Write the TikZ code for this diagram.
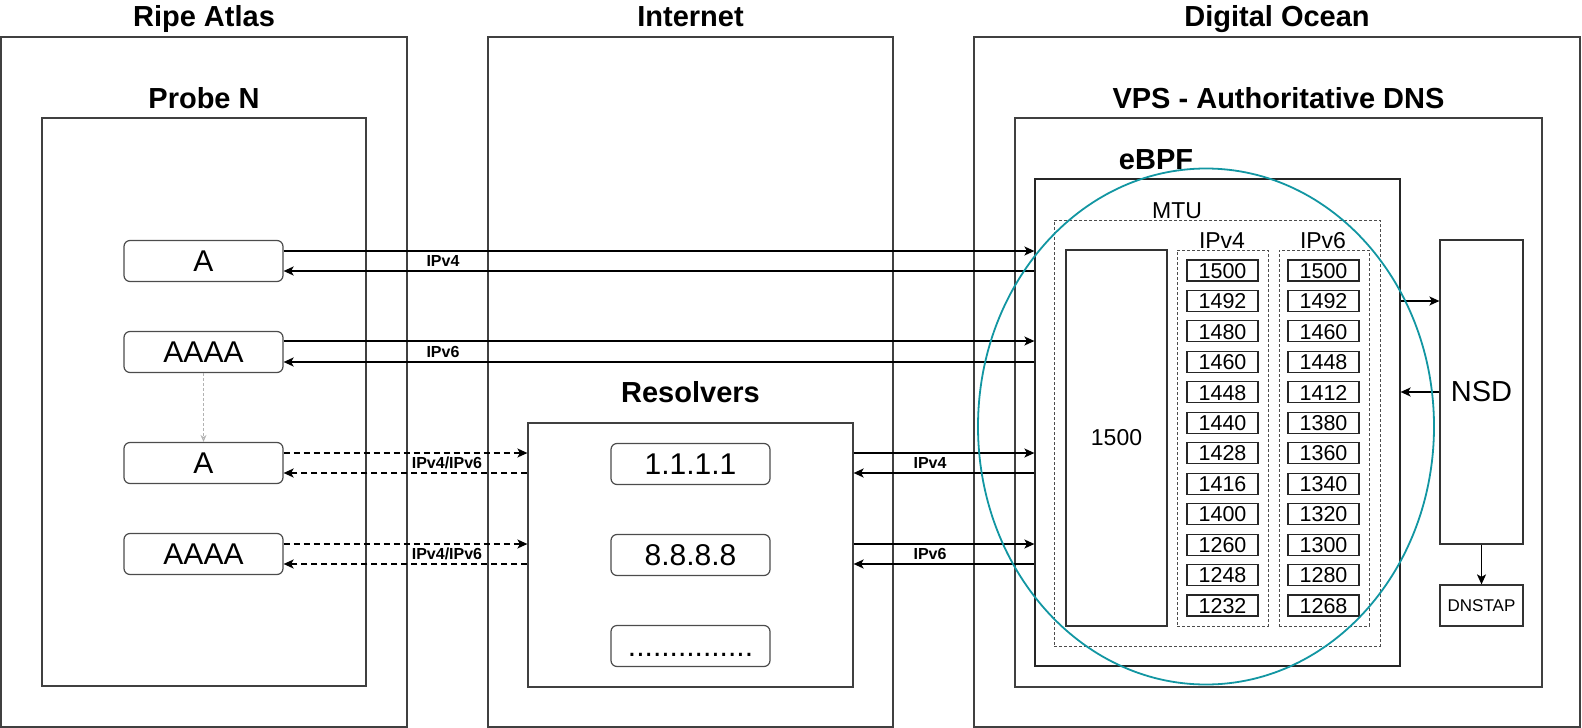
\documentclass[tikz,border=0pt]{standalone}
\usepackage{fontspec}
\setmainfont{Liberation Sans}
\usetikzlibrary{arrows.meta,calc}
\definecolor{tealring}{RGB}{18,150,162}
\begin{document}
\begin{tikzpicture}[x=1pt,y=-1pt,
 obox/.style={draw=black!75, line width=1.2pt, inner sep=0pt},
 rbox/.style={draw=black!70, line width=1.2pt, rounded corners=6pt, minimum width=159pt, minimum height=41pt, inner sep=0pt, text height=21.5pt, text depth=0pt, font=\fontsize{30}{30}\selectfont},
 nbox/.style={draw=black!85, line width=1.1pt, minimum width=71pt, minimum height=21pt, inner sep=0pt, text height=15.5pt, text depth=0pt, font=\fontsize{21.5}{21.5}\selectfont},
 dbox/.style={draw=black!70, line width=0.9pt, dash pattern=on 3pt off 2pt, inner sep=0pt},
 ttl/.style={font=\fontsize{29}{29}\selectfont\bfseries, anchor=base, inner sep=0pt},
 hdr/.style={font=\fontsize{23}{23}\selectfont, anchor=base, inner sep=0pt},
 arr/.style={-{Stealth[length=10pt,width=9pt,inset=2.5pt]}, line width=1.6pt, black},
 darr/.style={arr, dash pattern=on 6pt off 4pt},
 garr/.style={-{Stealth[open,length=7pt,width=6pt]}, line width=0.9pt, black!30, dash pattern=on 3pt off 2pt},
 lbl/.style={font=\fontsize{16}{16}\selectfont\bfseries, inner sep=0pt},
]
\useasboundingbox (0,0) rectangle (1582,728);

% outer containers
\node[obox, minimum width=406pt, minimum height=690pt] (ripe) at (204,382) {};
\node[obox, minimum width=405pt, minimum height=690pt] (inet) at (690.5,382) {};
\node[obox, minimum width=606pt, minimum height=690pt] (docean) at (1277,382) {};
\node[ttl] (tripe) at (204,27) {Ripe Atlas};
\node[ttl] (tinet) at (690.5,27) {Internet};
\node[ttl] (tdo) at (1277,27) {Digital Ocean};

% probe
\node[obox, minimum width=324pt, minimum height=568pt] (probe) at (204,402) {};
\node[ttl] (tprobe) at (204,108) {Probe N};
\node[rbox] (a1) at (203.5,261) {A};
\node[rbox] (q1) at (203.5,352) {AAAA};
\node[rbox] (a2) at (203.5,463) {A};
\node[rbox] (q2) at (203.5,554) {AAAA};

% resolvers
\node[obox, minimum width=325pt, minimum height=264pt] (res) at (690.5,555) {};
\node[ttl] (tres) at (690.5,402) {Resolvers};
\node[rbox] (r1) at (690.5,464) {1.1.1.1};
\node[rbox] (r2) at (690.5,555) {8.8.8.8};
\node[rbox] (r3) at (690.5,646) {...............};

% VPS
\node[obox, minimum width=527pt, minimum height=569pt] (vps) at (1278.5,402.5) {};
\node[ttl] (tvps) at (1278.5,108) {VPS - Authoritative DNS};
\node[obox, draw=black!85, minimum width=365pt, minimum height=487pt] (ebpf) at (1217.5,422.5) {};
\node[ttl] (tebpf) at (1156,169) {eBPF};
\node[dbox, minimum width=326pt, minimum height=426pt] (mtu) at (1217,433) {};
\node[hdr] (tmtu) at (1177,218) {MTU};
\node[obox, draw=black!80, minimum width=101pt, minimum height=376pt, font=\fontsize{23}{23}\selectfont] (big) at (1116.5,438) {1500};
\node[dbox, minimum width=91pt, minimum height=376pt] (col4) at (1222.5,438) {};
\node[dbox, minimum width=90pt, minimum height=376pt] (col6) at (1324,438) {};
\node[hdr] (t4) at (1222,248) {IPv4};
\node[hdr] (t6) at (1323,248) {IPv6};
\foreach \v [count=\i from 0] in {1500,1492,1480,1460,1448,1440,1428,1416,1400,1260,1248,1232}
  \node[nbox] (v4-\i) at (1222.5,{270.5+30.45*\i}) {\v};
\foreach \v [count=\i from 0] in {1500,1492,1460,1448,1412,1380,1360,1340,1320,1300,1280,1268}
  \node[nbox] (v6-\i) at (1323.5,{270.5+30.45*\i}) {\v};

\node[obox, draw=black!80, minimum width=83pt, minimum height=304pt, font=\fontsize{29}{29}\selectfont] (nsd) at (1481.5,392) {NSD};
\node[obox, draw=black!80, minimum width=83pt, minimum height=41pt, font=\fontsize{17}{17}\selectfont] (dnstap) at (1481.5,605.5) {DNSTAP};

% direct queries
\draw[arr] ($(a1.east)+(0,-10)$) -- ($(a1.east -| ebpf.west)+(0,-10)$);
\draw[arr] ($(a1.east -| ebpf.west)+(0,10)$) -- ($(a1.east)+(0,10)$);
\node[lbl] (l1) at (443,261) {IPv4};
\draw[arr] ($(q1.east)+(0,-11)$) -- ($(q1.east -| ebpf.west)+(0,-11)$);
\draw[arr] ($(q1.east -| ebpf.west)+(0,10)$) -- ($(q1.east)+(0,10)$);
\node[lbl] (l2) at (443,352) {IPv6};

% via resolvers
\draw[darr] ($(a2.east)+(0,-10)$) -- ($(a2.east -| res.west)+(0,-10)$);
\draw[darr] ($(a2.east -| res.west)+(0,10)$) -- ($(a2.east)+(0,10)$);
\node[lbl] (l3) at (447,463) {IPv4/IPv6};
\draw[darr] ($(q2.east)+(0,-10)$) -- ($(q2.east -| res.west)+(0,-10)$);
\draw[darr] ($(q2.east -| res.west)+(0,10)$) -- ($(q2.east)+(0,10)$);
\node[lbl] (l4) at (447,554) {IPv4/IPv6};

\draw[arr] ($(res.east |- a2.east)+(0,-10)$) -- ($(a2.east -| ebpf.west)+(0,-10)$);
\draw[arr] ($(a2.east -| ebpf.west)+(0,10)$) -- ($(res.east |- a2.east)+(0,10)$);
\node[lbl] (l5) at (930,463) {IPv4};
\draw[arr] ($(res.east |- q2.east)+(0,-10)$) -- ($(q2.east -| ebpf.west)+(0,-10)$);
\draw[arr] ($(q2.east -| ebpf.west)+(0,10)$) -- ($(res.east |- q2.east)+(0,10)$);
\node[lbl] (l6) at (930,554) {IPv6};

% AAAA -> A fallback
\draw[garr] (q1.south) -- (a2.north);

% NSD links
\coordinate (nin) at ($(nsd.west)+(0,-91)$);
\draw[arr] (ebpf.east |- nin) -- (nin);
\draw[arr] (nsd.west) -- (ebpf.east |- nsd.west);
\draw[arr] (nsd.south) -- (dnstap.north);

% eBPF ring
\draw[tealring, line width=1.8pt] (1206,426.5) ellipse [x radius=228, y radius=258];
\end{tikzpicture}
\end{document}
